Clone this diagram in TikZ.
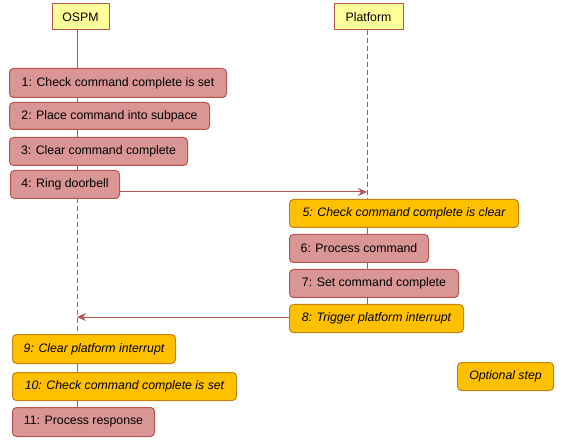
\documentclass[tikz,border=0pt]{standalone}
\usepackage{fontspec}
\setmainfont{Liberation Sans}
\usetikzlibrary{arrows.meta}
\definecolor{pinkfill}{RGB}{218,150,148}
\definecolor{redline}{RGB}{184,84,80}
\definecolor{orangefill}{RGB}{255,192,0}
\definecolor{orangeline}{RGB}{200,130,20}
\definecolor{headfill}{RGB}{255,255,153}
\tikzset{
  every node/.style={font=\fontsize{12.3}{14}\selectfont},
  header/.style={draw=redline, fill=headfill, line width=1pt, inner sep=0pt},
  stepbox/.style={draw=redline, fill=pinkfill, rounded corners=4pt, line width=1pt, inner sep=0pt, anchor=north west},
  optbox/.style={draw=orangeline, fill=orangefill, rounded corners=4pt, line width=1pt, inner sep=0pt, anchor=north west, font=\fontsize{12.3}{14}\selectfont\itshape},
  life/.style={draw=redline, line width=1pt},
  lifedash/.style={draw=redline, line width=1pt, dash pattern=on 5pt off 3pt},
  msg/.style={draw=redline, line width=1pt, -{Stealth[length=9pt,width=8pt]}},
}
\begin{document}
\begin{tikzpicture}[x=1pt,y=-1pt]
\useasboundingbox (0,0) rectangle (567,443);
% headers
\node[header, minimum width=57pt, minimum height=26pt] (ospm) at (80.5,17) {OSPM};
\node[header, minimum width=69pt, minimum height=26pt] (plat) at (368.5,17) {Platform};
% lifeline coordinates
\coordinate (oT) at (77,30);
\coordinate (oA) at (77,198);
\coordinate (oB) at (77,334);
\coordinate (oE) at (77,407);
\coordinate (pT) at (367,30);
\coordinate (pA) at (367,199);
\coordinate (pE) at (367,332);
\draw[life] (oT) -- (oA);
\draw[lifedash] (oA) -- (oB);
\draw[life] (oB) -- (oE);
\draw[lifedash] (pT) -- (pA);
\draw[life] (pA) -- (pE);
% OSPM steps
\node[stepbox, minimum width=217pt, minimum height=29pt] (s1) at (9,68) {1: Check command complete is set};
\node[stepbox, minimum width=200pt, minimum height=27pt] (s2) at (9,102) {2: Place command into subpace};
\node[stepbox, minimum width=178pt, minimum height=28pt] (s3) at (9,137) {3: Clear command complete};
\node[stepbox, minimum width=109pt, minimum height=28pt] (s4) at (10,170) {4: Ring doorbell};
% Platform steps
\node[optbox, minimum width=229pt, minimum height=28pt] (s5) at (289,199) {5: Check command complete is clear};
\node[stepbox, minimum width=139pt, minimum height=28pt] (s6) at (289,234) {6: Process command};
\node[stepbox, minimum width=169pt, minimum height=28pt] (s7) at (289,269) {7: Set command complete};
\node[optbox, minimum width=174pt, minimum height=28pt] (s8) at (289,304) {8: Trigger platform interrupt};
% OSPM final steps
\node[optbox, minimum width=163pt, minimum height=29pt] (s9) at (12,334) {9: Clear platform interrupt};
\node[optbox, minimum width=224pt, minimum height=28pt] (s10) at (12,372) {10: Check command complete is set};
\node[stepbox, minimum width=142pt, minimum height=29pt] (s11) at (12,407) {11: Process response};
% legend
\node[optbox, minimum width=96pt, minimum height=28pt] (opt) at (457,362) {Optional step};
% messages
\coordinate (m1) at (367,192);
\coordinate (m2) at (77,317);
\draw[msg] (s4.south east |- m1) -- (m1);
\draw[msg] (s8.west |- m2) -- (m2);
\end{tikzpicture}
\end{document}
